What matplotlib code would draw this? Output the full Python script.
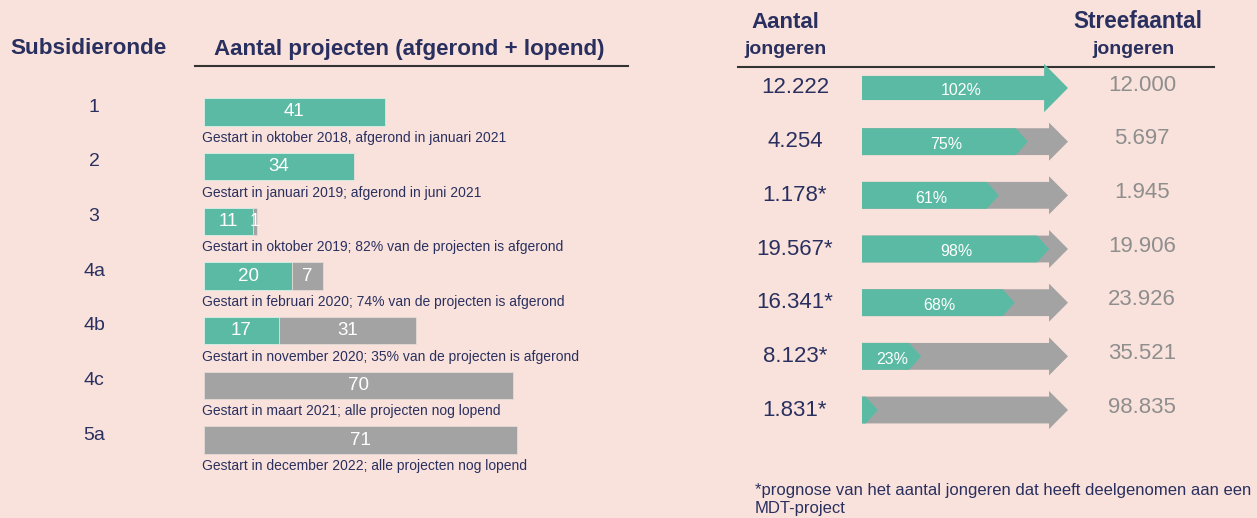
import matplotlib.pyplot as plt
from matplotlib import transforms
from matplotlib.patches import Polygon

plt.rcParams["font.family"] = ["Liberation Sans", "DejaVu Sans"]

# ---- data ----
rounds = ["1", "2", "3", "4a", "4b", "4c", "5a"]
afgerond = [41, 34, 11, 20, 17, 0, 0]
lopend = [0, 0, 1, 7, 31, 70, 71]
captions = [
    "Gestart in oktober 2018, afgerond in januari 2021",
    "Gestart in januari 2019; afgerond in juni 2021",
    "Gestart in oktober 2019; 82% van de projecten is afgerond",
    "Gestart in februari 2020; 74% van de projecten is afgerond",
    "Gestart in november 2020; 35% van de projecten is afgerond",
    "Gestart in maart 2021; alle projecten nog lopend",
    "Gestart in december 2022; alle projecten nog lopend",
]
jongeren = [12222, 4254, 1178, 19567, 16341, 8123, 1831]
prognose = [False, False, True, True, True, True, True]
streefaantal = [12000, 5697, 1945, 19906, 23926, 35521, 98835]

BG = "#FAE2DC"
TEAL = "#5BBAA3"
GRAY = "#A3A3A3"
NAVY = "#29305F"
TGRAY = "#8E8E8E"

W, H = 1257, 518


def box(x0, y0, x1, y1):
    # pixel box (origin top-left) -> figure rect
    return [x0 / W, 1 - y1 / H, (x1 - x0) / W, (y1 - y0) / H]


def dotted(n):
    return f"{n:,}".replace(",", ".")


fig = plt.figure(figsize=(W / 100, H / 100), dpi=100, facecolor=BG)

# layout axes in pixel units for headers and rules
lay = fig.add_axes([0, 0, 1, 1])
lay.set_xlim(0, W)
lay.set_ylim(H, 0)
lay.axis("off")

lay.text(88, 49, "Subsidieronde", ha="center", va="center", fontsize=16.2,
         fontweight="bold", color=NAVY)
lay.text(409, 49, "Aantal projecten (afgerond + lopend)", ha="center", va="center",
         fontsize=16.1, fontweight="bold", color=NAVY)
lay.plot([195, 628], [66, 66], color="#333333", lw=1.5)

lay.text(785, 22, "Aantal", ha="center", va="center", fontsize=16,
         fontweight="bold", color=NAVY)
lay.text(785, 50, "jongeren", ha="center", va="center", fontsize=14,
         fontweight="bold", color=NAVY)
lay.text(1138, 22, "Streefaantal", ha="center", va="center", fontsize=16.3,
         fontweight="bold", color=NAVY)
lay.text(1133, 50, "jongeren", ha="center", va="center", fontsize=14,
         fontweight="bold", color=NAVY)
lay.plot([738, 1214], [67, 67], color="#333333", lw=1.5)

lay.text(755, 499, "*prognose van het aantal jongeren dat heeft deelgenomen aan een\nMDT-project",
         ha="left", va="center", fontsize=12, color=NAVY, linespacing=1.25)

# ---- left: stacked bars ----
ax = fig.add_axes(box(204, 112 - 27.35, 204 + 80 * 4.41, 440 + 27.35))
ax.set_facecolor("none")
ax.set_xlim(0, 80)
ax.set_ylim(len(rounds) - 0.5, -0.5)
ax.axis("off")

ypos = list(range(len(rounds)))
ax.barh(ypos, afgerond, height=0.5, color=TEAL, edgecolor="#D9EFE8", linewidth=0.6)
ax.barh(ypos, lopend, left=afgerond, height=0.5, color=GRAY, edgecolor="#E4DAD6", linewidth=0.6)

row_l = transforms.blended_transform_factory(lay.transData, ax.transData)
for i in ypos:
    if afgerond[i] > 0:
        ax.text(afgerond[i] / 2, i, str(afgerond[i]), ha="center", va="center",
                fontsize=13.5, color="white")
    if lopend[i] > 0:
        ax.text(afgerond[i] + lopend[i] / 2, i, str(lopend[i]), ha="center", va="center",
                fontsize=13.5, color="white")
    ax.text(-0.5, i + 0.475, captions[i], ha="left", va="center", fontsize=10,
            color=NAVY, clip_on=False)
    lay.text(94, i - 0.09, rounds[i], ha="center", va="center", fontsize=14,
             color=NAVY, transform=row_l)

# ---- right: progress arrows ----
ar = fig.add_axes(box(862, 88 - 26.85, 1068, 410 + 26.85))
ar.set_facecolor("none")
ar.set_xlim(0, 100)
ar.set_ylim(len(rounds) - 0.5, -0.5)
ar.axis("off")

BODY = 0.25
HEAD = 0.355
HEAD_LEN = 9.2
TIP = 5.8


def arrow(y, end, body, head, head_len, color):
    pts = [(0, y - body), (end - head_len, y - body), (end - head_len, y - head),
           (end, y), (end - head_len, y + head), (end - head_len, y + body), (0, y + body)]
    ar.add_patch(Polygon(pts, closed=True, color=color, lw=0, clip_on=False))


row_r = transforms.blended_transform_factory(lay.transData, ar.transData)
for i in ypos:
    pct = jongeren[i] / streefaantal[i] * 100
    if pct >= 100:
        arrow(i, 100, 0.225, 0.45, 11.6, TEAL)
        label_x = 48
    else:
        arrow(i, 100, BODY, HEAD, HEAD_LEN, GRAY)
        end = min(pct, 100 - HEAD_LEN - TIP)
        ar.add_patch(Polygon([(0, i - BODY), (end, i - BODY), (end + TIP, i),
                              (end, i + BODY), (0, i + BODY)],
                             closed=True, color=TEAL, lw=0, clip_on=False))
        label_x = (end + TIP / 2) / 2 + 2
    if pct >= 10:
        ar.text(label_x, i + 0.05, f"{pct:.0f}%", ha="center", va="center",
                fontsize=11.5, color="white")
    star = "*" if prognose[i] else ""
    lay.text(795, i, dotted(jongeren[i]) + star, ha="center", va="center",
             fontsize=16, color=NAVY, transform=row_r)
    lay.text(1142, i - 0.05, dotted(streefaantal[i]), ha="center", va="center",
             fontsize=16, color=TGRAY, transform=row_r)

fig.savefig("out.png", dpi=100, facecolor=BG)
